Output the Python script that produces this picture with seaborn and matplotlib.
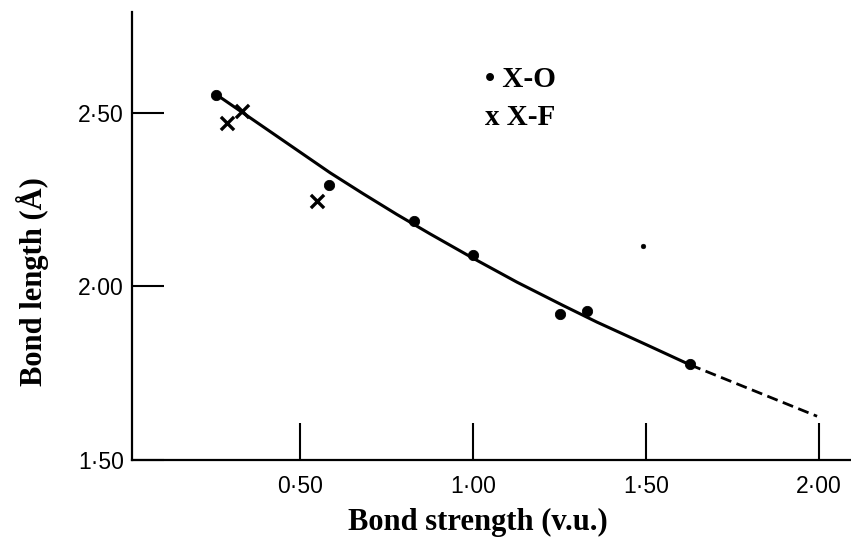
import matplotlib
matplotlib.use("Agg")
import matplotlib.pyplot as plt
import seaborn as sns
import pandas as pd

# Bond strength (v.u.) vs bond length (Å)
o_strength = [0.257, 0.584, 0.829, 1.000, 1.251, 1.329, 1.627]
o_length = [2.552, 2.293, 2.187, 2.089, 1.920, 1.928, 1.776]

stray_strength = [1.490]
stray_length = [2.115]

f_strength = [0.289, 0.332, 0.549]
f_length = [2.471, 2.506, 2.247]

curve_strength = [0.260, 0.355, 0.587, 0.682, 0.780, 0.876, 1.000,
                  1.127, 1.260, 1.358, 1.503, 1.627]
curve_length = [2.551, 2.486, 2.327, 2.267, 2.207, 2.151, 2.081,
                2.012, 1.945, 1.897, 1.831, 1.774]

ext_strength = [1.627, 1.994]
ext_length = [1.774, 1.626]

x_ticks = [0.5, 1.0, 1.5, 2.0]
x_ticklabels = ["0\u00b750", "1\u00b700", "1\u00b750", "2\u00b700"]
y_ticks = [1.5, 2.0, 2.5]
y_ticklabels = ["1\u00b750", "2\u00b700", "2\u00b750"]

sns.set_theme(style="ticks")
plt.rcParams["font.family"] = ["Liberation Sans", "DejaVu Sans"]

W, H = 851, 540
fig = plt.figure(figsize=(W / 100, H / 100), dpi=100)
ax = fig.add_axes([132 / W, 80 / H, (W - 132) / W, 448 / H])

curve = pd.DataFrame({"s": curve_strength, "r": curve_length})
ext = pd.DataFrame({"s": ext_strength, "r": ext_length})
oxy = pd.DataFrame({"s": o_strength, "r": o_length})
flu = pd.DataFrame({"s": f_strength, "r": f_length})
stray = pd.DataFrame({"s": stray_strength, "r": stray_length})

sns.lineplot(data=curve, x="s", y="r", ax=ax, sort=False, estimator=None,
             color="black", linewidth=2.2, solid_joinstyle="round")
sns.lineplot(data=ext, x="s", y="r", ax=ax, sort=False, estimator=None,
             color="black", linewidth=2.0, linestyle=(0, (4, 2)))
sns.scatterplot(data=oxy, x="s", y="r", ax=ax, marker="o", s=55,
                color="black", edgecolor="black", zorder=3)
sns.scatterplot(data=stray, x="s", y="r", ax=ax, marker="o", s=12,
                color="black", edgecolor="black", zorder=3)
sns.scatterplot(data=flu, x="s", y="r", ax=ax, marker="x", s=90,
                color="black", linewidth=2.4, zorder=3)

ax.set_xlim(0.0145, 2.092)
ax.set_ylim(1.50, 2.79)

ax.set_xticks(x_ticks)
ax.set_xticklabels(x_ticklabels)
ax.set_yticks(y_ticks)
ax.set_yticklabels(y_ticklabels)

for side in ["top", "right"]:
    ax.spines[side].set_visible(False)
for side in ["left", "bottom"]:
    ax.spines[side].set_linewidth(1.6)
    ax.spines[side].set_color("black")

ax.tick_params(axis="y", direction="in", length=23, width=1.5,
               labelsize=16.5, pad=6, colors="black")
ax.tick_params(axis="x", direction="in", length=27, width=1.5,
               labelsize=16.5, pad=11, colors="black")

ax.set_xlabel("")
ax.set_ylabel("")

serif_bold = dict(family=["Liberation Serif", "DejaVu Serif"], fontweight="bold",
                  color="black")
fig.text(478 / W, 1 - 522 / H, "Bond strength (v.u.)", ha="center",
         va="center", fontsize=22, **serif_bold)
fig.text(33 / W, 1 - 282 / H, "Bond length (\u00c5)", ha="center",
         va="center", rotation=90, fontsize=22, **serif_bold)

fig.text(485 / W, 1 - 87 / H, "\u2022 X-O", ha="left", va="baseline",
         fontsize=21, **serif_bold)
fig.text(485 / W, 1 - 125 / H, "x X-F", ha="left", va="baseline",
         fontsize=21, **serif_bold)

fig.savefig("out.png", dpi=100, facecolor="white")
